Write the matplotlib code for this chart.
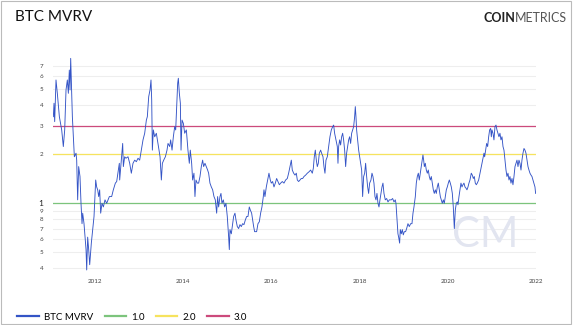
import matplotlib
matplotlib.use("Agg")
import matplotlib.pyplot as plt
from matplotlib.lines import Line2D
from matplotlib.patches import Rectangle

plt.rcParams['font.family'] = ['Lato', 'DejaVu Sans']

# decimal year, MVRV ratio
years = [
    2011.056, 2011.071, 2011.086, 2011.116, 2011.146, 2011.192, 2011.245, 2011.282, 2011.313, 2011.343,
    2011.373, 2011.396, 2011.418, 2011.434, 2011.449, 2011.464, 2011.487, 2011.509, 2011.532, 2011.570,
    2011.585, 2011.607, 2011.630, 2011.660, 2011.683, 2011.706, 2011.721, 2011.751, 2011.774, 2011.797,
    2011.812, 2011.834, 2011.857, 2011.880, 2011.917, 2011.948, 2011.978, 2012.016, 2012.038, 2012.061,
    2012.084, 2012.106, 2012.129, 2012.159, 2012.190, 2012.227, 2012.265, 2012.326, 2012.378, 2012.416,
    2012.462, 2012.492, 2012.552, 2012.560, 2012.598, 2012.628, 2012.643, 2012.673, 2012.703, 2012.749,
    2012.787, 2012.824, 2012.862, 2012.900, 2012.938, 2012.976, 2013.013, 2013.051, 2013.089, 2013.127,
    2013.165, 2013.187, 2013.218, 2013.248, 2013.270, 2013.286, 2013.301, 2013.323, 2013.354, 2013.391,
    2013.429, 2013.452, 2013.475, 2013.505, 2013.528, 2013.558, 2013.596, 2013.633, 2013.656, 2013.694,
    2013.716, 2013.747, 2013.777, 2013.807, 2013.830, 2013.853, 2013.875, 2013.890, 2013.913, 2013.936,
    2013.951, 2013.974, 2014.004, 2014.034, 2014.072, 2014.108, 2014.139, 2014.161, 2014.192, 2014.214,
    2014.244, 2014.267, 2014.290, 2014.320, 2014.350, 2014.381, 2014.411, 2014.441, 2014.464, 2014.494,
    2014.524, 2014.554, 2014.577, 2014.607, 2014.638, 2014.668, 2014.698, 2014.728, 2014.759, 2014.781,
    2014.804, 2014.834, 2014.857, 2014.879, 2014.910, 2014.940, 2014.970, 2015.000, 2015.031, 2015.046,
    2015.061, 2015.091, 2015.121, 2015.144, 2015.174, 2015.197, 2015.227, 2015.257, 2015.288, 2015.318,
    2015.348, 2015.378, 2015.409, 2015.439, 2015.469, 2015.499, 2015.522, 2015.552, 2015.575, 2015.598,
    2015.620, 2015.665, 2015.696, 2015.726, 2015.756, 2015.786, 2015.817, 2015.832, 2015.854, 2015.885,
    2015.915, 2015.945, 2015.975, 2015.998, 2016.028, 2016.059, 2016.089, 2016.119, 2016.149, 2016.180,
    2016.210, 2016.248, 2016.285, 2016.323, 2016.361, 2016.391, 2016.421, 2016.452, 2016.474, 2016.505,
    2016.535, 2016.565, 2016.588, 2016.618, 2016.648, 2016.678, 2016.709, 2016.739, 2016.777, 2016.815,
    2016.852, 2016.890, 2016.928, 2016.951, 2016.973, 2016.996, 2017.019, 2017.041, 2017.064, 2017.087,
    2017.117, 2017.139, 2017.170, 2017.192, 2017.215, 2017.238, 2017.268, 2017.298, 2017.328, 2017.359,
    2017.389, 2017.412, 2017.434, 2017.465, 2017.495, 2017.510, 2017.525, 2017.548, 2017.570, 2017.593,
    2017.616, 2017.638, 2017.661, 2017.684, 2017.706, 2017.729, 2017.752, 2017.774, 2017.797, 2017.820,
    2017.843, 2017.865, 2017.888, 2017.903, 2017.918, 2017.933, 2017.956, 2017.979, 2018.001, 2018.024,
    2018.047, 2018.069, 2018.092, 2018.115, 2018.137, 2018.160, 2018.183, 2018.205, 2018.228, 2018.258,
    2018.281, 2018.303, 2018.326, 2018.349, 2018.372, 2018.394, 2018.417, 2018.440, 2018.462, 2018.485,
    2018.508, 2018.530, 2018.553, 2018.583, 2018.614, 2018.644, 2018.674, 2018.719, 2018.749, 2018.780,
    2018.810, 2018.825, 2018.840, 2018.855, 2018.870, 2018.886, 2018.908, 2018.923, 2018.946, 2018.969,
    2018.991, 2019.014, 2019.044, 2019.067, 2019.097, 2019.127, 2019.158, 2019.188, 2019.211, 2019.233,
    2019.264, 2019.286, 2019.309, 2019.332, 2019.354, 2019.377, 2019.400, 2019.422, 2019.437, 2019.453,
    2019.468, 2019.490, 2019.513, 2019.536, 2019.558, 2019.581, 2019.604, 2019.626, 2019.649, 2019.672,
    2019.694, 2019.717, 2019.740, 2019.762, 2019.785, 2019.808, 2019.831, 2019.853, 2019.876, 2019.899,
    2019.921, 2019.944, 2019.967, 2019.989, 2020.012, 2020.035, 2020.057, 2020.080, 2020.103, 2020.125,
    2020.148, 2020.171, 2020.193, 2020.216, 2020.231, 2020.254, 2020.276, 2020.299, 2020.322, 2020.344,
    2020.367, 2020.390, 2020.412, 2020.435, 2020.458, 2020.480, 2020.503, 2020.533, 2020.556, 2020.579,
    2020.601, 2020.624, 2020.647, 2020.669, 2020.700, 2020.730, 2020.760, 2020.790, 2020.821, 2020.836,
    2020.858, 2020.881, 2020.904, 2020.927, 2020.949, 2020.972, 2020.987, 2021.002, 2021.025, 2021.047,
    2021.070, 2021.093, 2021.115, 2021.138, 2021.161, 2021.183, 2021.206, 2021.229, 2021.252, 2021.274,
    2021.297, 2021.320, 2021.342, 2021.365, 2021.388, 2021.410, 2021.433, 2021.456, 2021.478, 2021.501,
    2021.524, 2021.546, 2021.569, 2021.592, 2021.614, 2021.637, 2021.660, 2021.682, 2021.705, 2021.728,
    2021.750, 2021.773, 2021.796, 2021.819, 2021.841, 2021.864, 2021.887, 2021.909, 2021.932, 2021.955,
    2021.977, 2021.992,
]
mvrv = [
    3.40, 4.11, 3.17, 5.71, 4.73, 3.40, 2.82, 2.23, 2.82, 4.96,
    5.71, 4.73, 6.57, 4.96, 7.75, 5.71, 3.40, 2.56, 1.93, 2.03,
    1.84, 1.05, 1.68, 1.46, 1.00, 0.75, 0.87, 0.75, 0.62, 0.52,
    0.39, 0.62, 0.52, 0.42, 0.57, 0.69, 0.83, 1.39, 1.26, 1.21,
    1.10, 1.21, 0.87, 1.00, 0.95, 1.05, 1.00, 1.10, 1.10, 1.21,
    1.33, 1.36, 1.76, 1.39, 1.84, 2.33, 1.68, 1.93, 1.89, 1.93,
    1.76, 1.53, 1.76, 1.84, 1.80, 1.89, 1.84, 2.12, 2.45, 2.69,
    3.24, 3.40, 4.51, 4.96, 5.71, 4.30, 2.12, 2.82, 2.56, 2.69,
    2.33, 2.12, 1.93, 1.39, 1.76, 1.84, 1.93, 2.12, 2.33, 2.23,
    2.45, 2.12, 2.56, 2.95, 2.82, 3.92, 5.45, 5.85, 4.73, 4.11,
    2.12, 3.24, 3.09, 2.69, 2.82, 2.12, 1.76, 2.12, 1.76, 1.39,
    1.53, 1.10, 1.39, 1.33, 1.33, 1.46, 1.68, 1.84, 1.68, 1.76,
    1.68, 1.60, 1.53, 1.33, 1.26, 1.21, 1.10, 1.05, 0.87, 1.10,
    0.95, 1.10, 1.15, 1.00, 1.05, 0.95, 1.00, 0.83, 0.62, 0.52,
    0.69, 0.65, 0.75, 0.83, 0.87, 0.79, 0.72, 0.70, 0.74, 0.72,
    0.75, 0.74, 0.79, 0.83, 0.83, 0.95, 0.91, 0.87, 0.79, 0.72,
    0.67, 0.67, 0.75, 0.77, 0.87, 0.95, 1.10, 1.21, 1.10, 1.26,
    1.39, 1.53, 1.39, 1.33, 1.36, 1.26, 1.33, 1.42, 1.36, 1.30,
    1.33, 1.36, 1.33, 1.39, 1.42, 1.53, 1.68, 1.84, 1.60, 1.53,
    1.49, 1.53, 1.39, 1.36, 1.39, 1.42, 1.42, 1.46, 1.49, 1.53,
    1.56, 1.60, 1.53, 1.64, 1.93, 2.12, 1.84, 1.68, 1.76, 2.03,
    2.12, 2.03, 1.93, 1.68, 1.53, 1.84, 1.93, 2.23, 2.56, 2.82,
    2.95, 3.02, 2.69, 2.45, 2.23, 1.76, 2.23, 2.45, 2.28, 2.56,
    2.69, 2.45, 2.12, 1.68, 2.03, 2.23, 2.45, 2.56, 2.33, 2.69,
    2.82, 2.95, 3.40, 3.92, 3.40, 2.82, 2.45, 2.12, 1.93, 1.76,
    1.60, 1.10, 1.46, 1.53, 1.76, 1.46, 1.26, 1.15, 1.33, 1.39,
    1.53, 1.46, 1.33, 1.10, 1.05, 1.15, 1.00, 0.95, 1.05, 1.15,
    1.26, 1.33, 1.15, 1.05, 1.07, 1.02, 1.05, 1.05, 1.07, 1.02,
    1.05, 1.00, 0.87, 0.75, 0.65, 0.62, 0.57, 0.69, 0.65, 0.69,
    0.64, 0.67, 0.67, 0.70, 0.75, 0.72, 0.75, 0.75, 0.87, 0.95,
    1.10, 1.33, 1.46, 1.53, 1.39, 1.53, 1.68, 1.84, 1.98, 1.84,
    1.68, 1.76, 1.60, 1.53, 1.60, 1.46, 1.39, 1.46, 1.33, 1.21,
    1.15, 1.21, 1.15, 1.26, 1.33, 1.21, 1.10, 1.05, 1.00, 1.05,
    1.00, 1.10, 1.21, 1.26, 1.33, 1.39, 1.33, 1.26, 1.15, 0.95,
    0.70, 0.91, 1.00, 1.02, 0.98, 1.10, 1.21, 1.33, 1.26, 1.30,
    1.33, 1.26, 1.24, 1.21, 1.26, 1.33, 1.39, 1.53, 1.49, 1.42,
    1.46, 1.33, 1.30, 1.33, 1.39, 1.53, 1.68, 1.84, 2.03, 1.93,
    2.12, 2.33, 2.23, 2.56, 2.82, 2.88, 2.56, 2.82, 2.69, 2.45,
    2.95, 3.02, 2.82, 2.69, 2.56, 2.69, 2.45, 2.56, 2.23, 2.12,
    1.84, 1.60, 1.46, 1.53, 1.39, 1.46, 1.33, 1.42, 1.30, 1.46,
    1.68, 1.76, 1.84, 1.68, 1.84, 1.76, 1.60, 1.84, 2.03, 2.17,
    2.12, 2.03, 1.84, 1.68, 1.60, 1.53, 1.49, 1.46, 1.39, 1.33,
    1.26, 1.15,
]

levels = [1.0, 2.0, 3.0]
level_labels = ["1.0", "2.0", "3.0"]
level_colors = ["#7cc47c", "#f6e35e", "#cc4a7c"]

ytick_vals = [0.4, 0.5, 0.6, 0.7, 0.8, 0.9, 1, 2, 3, 4, 5, 6, 7]
ytick_labels = ["4", "5", "6", "7", "8", "9", "1", "2", "3", "4", "5", "6", "7"]
xtick_years = [2012, 2014, 2016, 2018, 2020, 2022]

line_color = "#3454c6"

fig = plt.figure(figsize=(5.79, 3.25), dpi=100)
ax = fig.add_axes([0.0917, 0.1637, 0.834, 0.669])

ax.set_yscale("log")
ax.set_ylim(0.38, 8.2)
ax.set_xlim(2011.05, 2022.0)

for v in ytick_vals:
    ax.axhline(v, color="#eeeeee", lw=0.8, zorder=0)

for lv, c in zip(levels, level_colors):
    ax.axhline(lv, color=c, lw=0.9, zorder=1)

ax.plot(years, mvrv, color=line_color, lw=0.65, zorder=3)

ax.set_yticks(ytick_vals)
ax.set_yticklabels(ytick_labels)
ax.yaxis.set_minor_locator(plt.NullLocator())
ax.set_xticks(xtick_years)
ax.set_xticklabels([str(y) for y in xtick_years])
ax.tick_params(axis="both", length=0, labelsize=4.5, labelcolor="#444444")
ax.tick_params(axis="y", pad=7)
ax.tick_params(axis="x", pad=5)
for lab in ax.get_yticklabels():
    if lab.get_text() == "1":
        lab.set_fontsize(6)
        lab.set_color("#222222")
for s in ax.spines.values():
    s.set_visible(False)

# faint watermark
ax.text(0.895, 0.17, "CM", transform=ax.transAxes, fontsize=30, fontweight="normal",
        color="#e2e5f0", ha="center", va="center", zorder=2)

fig.text(15 / 579, 1 - 17 / 325, "BTC MVRV", fontsize=11, color="#111111",
         ha="left", va="center")

# logo: bold COIN + thin METRICS
renderer = fig.canvas.get_renderer()
t_metrics = fig.text(567 / 579, 1 - 18 / 325, "METRICS", fontsize=9, fontweight="normal",
                     color="#555555", ha="right", va="center")
bb = t_metrics.get_window_extent(renderer)
fig.text(bb.x0 / fig.bbox.width, 1 - 18 / 325, "COIN", fontsize=9, fontweight="bold",
         color="#222222", ha="right", va="center")

handles = [Line2D([], [], color=line_color, lw=1.6)]
handles += [Line2D([], [], color=c, lw=1.6) for c in level_colors]
fig.legend(handles, ["BTC MVRV"] + level_labels, loc="center left",
           bbox_to_anchor=(0.015, 1 - 317 / 325), ncol=4, frameon=False,
           fontsize=7, handlelength=2.2, handletextpad=0.5, columnspacing=1.2)

fig.patches.append(Rectangle((1 / 579, 0.002), 570 / 579, 0.996, transform=fig.transFigure,
                             fill=False, edgecolor="#bbbbbb", lw=0.8))

fig.savefig("out.png", dpi=100, facecolor="white")
